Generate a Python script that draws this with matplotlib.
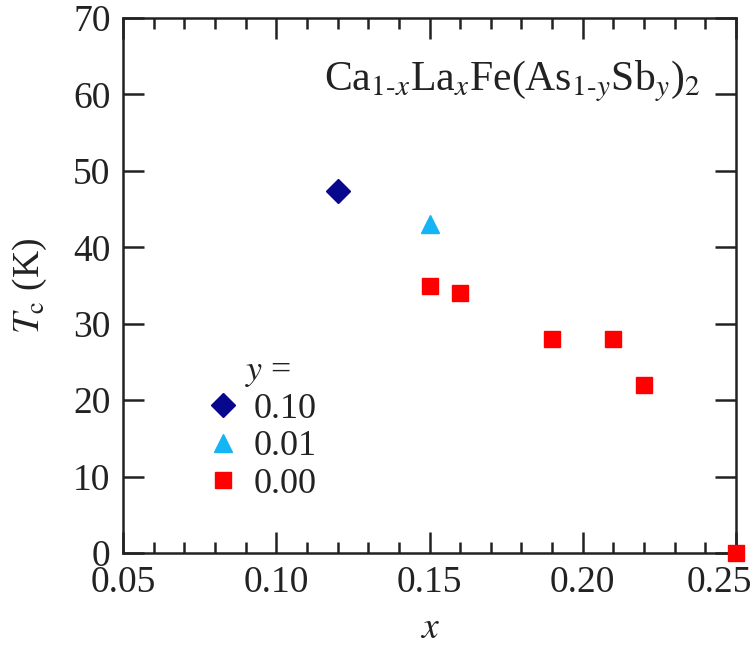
import matplotlib
matplotlib.use("Agg")
import matplotlib.pyplot as plt
from matplotlib.ticker import MultipleLocator
from matplotlib.transforms import ScaledTranslation

plt.rcParams['font.family'] = ['Liberation Serif', 'DejaVu Serif']
plt.rcParams['mathtext.fontset'] = 'stix'

# data
x_y010 = [0.12]
tc_y010 = [47.3]
x_y001 = [0.15]
tc_y001 = [43.0]
x_y000 = [0.15, 0.16, 0.19, 0.21, 0.22, 0.25]
tc_y000 = [35.0, 34.0, 28.0, 28.0, 22.0, 0.0]
legend_labels = ["0.10", "0.01", "0.00"]
xtick_vals = [0.05, 0.10, 0.15, 0.20, 0.25]
xtick_labels = ["0.05", "0.10", "0.15", "0.20", "0.25"]

fig = plt.figure(figsize=(7.55, 6.64), dpi=100)
ax = fig.add_axes([123/755, 1 - 553/664, (736-123)/755, (553-18)/664])

ax.plot(x_y010, tc_y010, linestyle='none', marker='D', markersize=12,
        color='#08088f', label=legend_labels[0], clip_on=False)
ax.plot(x_y001, tc_y001, linestyle='none', marker='^', markersize=13,
        color='#14b4f5', label=legend_labels[1], clip_on=False)
ax.plot(x_y000, tc_y000, linestyle='none', marker='s', markersize=12,
        color='#ff0000', label=legend_labels[2], clip_on=False, zorder=5)

ax.set_xlim(0.05, 0.25)
ax.set_ylim(0, 70)
ax.set_xticks(xtick_vals)
ax.set_xticklabels(xtick_labels)
ax.xaxis.set_minor_locator(MultipleLocator(0.01))
ax.yaxis.set_major_locator(MultipleLocator(10))

ax.tick_params(which='both', direction='in', top=True, right=True,
               labelsize=27, colors='#222222', width=1.8)
ax.tick_params(which='major', length=15, pad=9)
ax.tick_params(which='minor', length=8)
for s in ax.spines.values():
    s.set_linewidth(1.8)
    s.set_color('#222222')

# shift the last x tick label slightly left so it stays inside the figure
last = ax.get_xticklabels()[-1]
last.set_transform(last.get_transform() + ScaledTranslation(-17/100, 0, fig.dpi_scale_trans))

ax.set_xlabel(r'$x$', fontsize=27, labelpad=8, color='#222222')
ax.set_ylabel(r'$T_\mathrm{c}$ (K)', fontsize=27, labelpad=17, color='#222222')

ax.text(0.942, 0.882, r'Ca$_{1\text{-}x}$La$_x$Fe(As$_{1\text{-}y}$Sb$_y$)$_2$',
        transform=ax.transAxes, ha='right', va='center', fontsize=30,
        color='#222222')

leg = ax.legend(loc='lower left', bbox_to_anchor=(0.08, 0.05), frameon=False,
                fontsize=26, handletextpad=0.15, labelspacing=0.12,
                borderpad=0.2, handlelength=1.4)
for t in leg.get_texts():
    t.set_color('#222222')
ax.text(0.2365, 0.338, r'$y$ =', transform=ax.transAxes, ha='center',
        va='center', fontsize=26, color='#222222')

fig.savefig('out.png', dpi=100)
